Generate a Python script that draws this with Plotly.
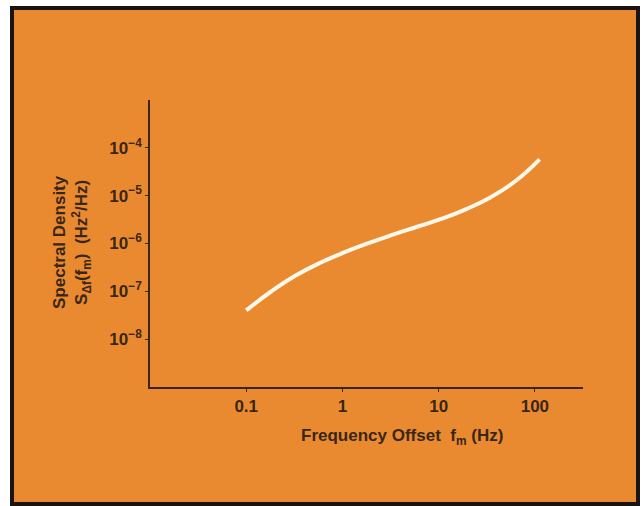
import plotly.graph_objects as go

# Data
freq_hz = [0.1, 0.18, 0.32, 0.58, 1.04, 1.87, 3.35, 6.0, 10.8, 19.4, 34.8, 62.5, 112]
spectral_density = [4.0e-8, 9.8e-8, 2.09e-7, 3.9e-7, 6.5e-7, 1.02e-6, 1.53e-6,
                    2.24e-6, 3.3e-6, 5.25e-6, 9.3e-6, 2.0e-5, 5.75e-5]

x_tickvals = [0.1, 1, 10, 100]
x_ticktext = ["0.1", "1", "10", "100"]
y_tickvals = [1e-8, 1e-7, 1e-6, 1e-5, 1e-4]
y_ticktext = ["10<sup>\u22128</sup>", "10<sup>\u22127</sup>", "10<sup>\u22126</sup>",
              "10<sup>\u22125</sup>", "10<sup>\u22124</sup>"]

ORANGE = "#E98A30"
INK = "#3a2616"
FONT = "Liberation Sans Narrow, Liberation Sans, Arial"

W, H = 644, 506
L, R, T, B = 150, 61, 100, 119
pw, ph = W - L - R, H - T - B

def px_x(px):
    return (px - L) / pw

def px_y(py):
    return (H - B - py) / ph

fig = go.Figure()
fig.add_trace(go.Scatter(
    x=freq_hz, y=spectral_density, mode="lines",
    line=dict(color="#FFF7E8", width=4, shape="spline", smoothing=1.3),
    hoverinfo="skip", showlegend=False,
))

fig.update_layout(
    width=W, height=H,
    margin=dict(l=L, r=R, t=T, b=B),
    paper_bgcolor="white",
    plot_bgcolor="rgba(0,0,0,0)",
    showlegend=False,
    xaxis=dict(
        type="log", range=[-2, 2.5],
        tickvals=x_tickvals, ticktext=x_ticktext,
        showgrid=False, zeroline=False,
        showline=True, linecolor=INK, linewidth=1.5,
        ticks="outside", ticklen=3, tickcolor=INK,
        tickfont=dict(family=FONT, size=17, color=INK, weight="bold"),
    ),
    yaxis=dict(
        type="log", range=[-9, -3],
        tickvals=y_tickvals, ticktext=y_ticktext,
        showgrid=False, zeroline=False,
        showline=True, linecolor=INK, linewidth=1.5,
        ticks="outside", ticklen=3, tickcolor=INK,
        tickfont=dict(family=FONT, size=17, color=INK, weight="bold"),
    ),
    shapes=[dict(
        type="rect", xref="paper", yref="paper", layer="below",
        x0=px_x(12), x1=px_x(638), y0=px_y(504), y1=px_y(8),
        fillcolor=ORANGE, line=dict(color="#1a1410", width=4),
    )],
    annotations=[
        dict(
            text="Frequency Offset  f<sub>m</sub> (Hz)",
            xref="paper", yref="paper", x=px_x(402), y=px_y(437),
            xanchor="center", yanchor="middle", showarrow=False,
            font=dict(family=FONT, size=17, color=INK, weight="bold"),
        ),
        dict(
            text="Spectral Density<br>S<sub>\u0394f</sub>(f<sub>m</sub>)  (Hz<sup>2</sup>/Hz)",
            xref="paper", yref="paper", x=px_x(72), y=px_y(242),
            xanchor="center", yanchor="middle", showarrow=False, textangle=-90,
            font=dict(family=FONT, size=17, color=INK, weight="bold"),
        ),
    ],
)

fig.write_html("out.html")
